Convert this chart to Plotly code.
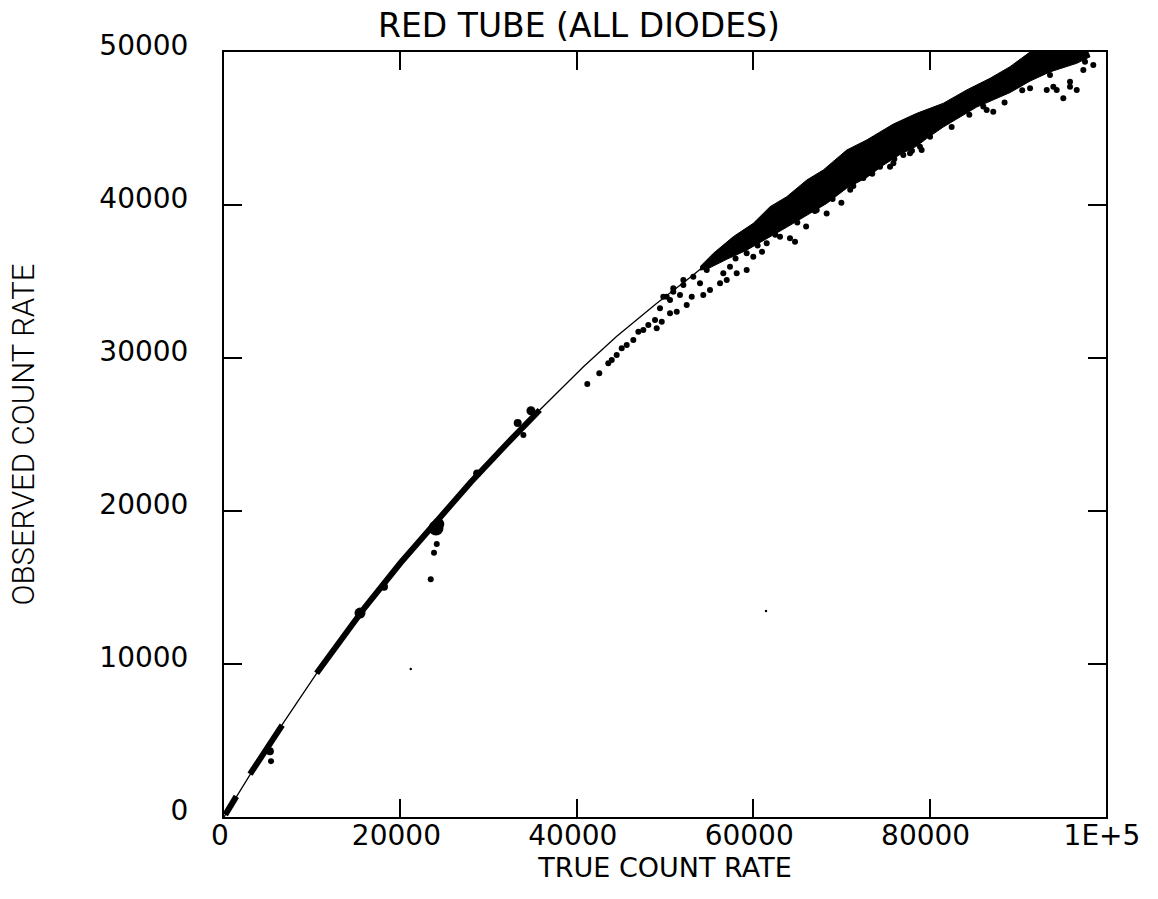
import plotly.graph_objects as go

# Fitted dead-time curve: true count rate vs observed count rate
curve_true = [0, 2000, 4000, 6500, 10500, 15000, 20000, 25000, 30000, 35800,
              40750, 44500, 49000, 53200, 57000, 61000, 65000, 70000, 75000,
              80000, 85000, 90000, 96000]
curve_obs = [0, 1900, 3750, 5950, 9390, 13000, 16600, 19950, 23100, 26600,
             29430, 31400, 33550, 35420, 37250, 39100, 40750, 42850, 44600,
             46200, 47300, 49000, 50400]

# Dense runs of diode measurements at low rates
run_a_true = [150, 700, 1400]
run_a_obs = [150, 680, 1350]
run_b_true = [2950, 4000, 5000, 6000, 6600]
run_b_obs = [2800, 3750, 4630, 5510, 6000]
run_c_true = [10500, 13000, 16000, 20000, 24000, 28000, 32000, 35800]
run_c_obs = [9390, 11400, 13720, 16600, 19300, 21900, 24350, 26600]

# Clumps sitting on the low-rate runs
clump_true = [5200, 15420, 18140, 24040, 24300, 28700, 33300, 34800]
clump_obs = [4300, 13330, 15050, 18890, 19150, 22450, 25750, 26550]
clump_size = [8, 11, 8, 15, 12, 8, 8, 9]

# High-rate band: upper edge then lower edge of the dense cloud
band_upper_true = [53970, 55480, 57740, 60010, 61910, 63800, 66070, 67950,
                   70600, 72870, 75890, 78540, 81560, 84210, 86850, 89120,
                   91390, 97960]
band_upper_obs = [35970, 36840, 37930, 38800, 39890, 40540, 41630, 42290,
                  43590, 44250, 45290, 45990, 46650, 47520, 48280, 49040,
                  50000, 50000]
band_lower_true = [98190, 96680, 93650, 91390, 89120, 86850, 85340, 83450,
                   81560, 79670, 78540, 76640, 74750, 72870, 70600, 68330,
                   66070, 63800, 61530, 59260, 57000, 54730, 53970]
band_lower_obs = [49690, 49260, 48700, 48100, 47350, 46750, 46400, 45750,
                  45100, 44350, 43850, 43300, 42600, 41800, 41100, 40100,
                  39300, 38550, 37800, 37050, 36450, 35800, 35750]

# Individual scattered measurements
dots_true = [
    41190, 42550, 43570, 43960, 44520, 45090, 45660, 46410, 46980, 47540,
    48110, 48870, 49630, 49060, 49430, 50570, 51330, 52460, 50570, 51700,
    53030, 54340, 55100, 53970, 56240, 57000, 58130, 59260, 60010, 50190,
    50940, 52080, 53210, 54730, 49810, 50940, 52080,
    56610, 57370, 59260, 61530, 63040, 64170, 64740, 67200, 68330, 69470,
    71350, 72490, 74380, 75890, 77780, 78910, 80050, 77020, 79100, 86090,
    86470, 87220, 91390, 93280, 93650, 94030, 94410, 95160, 95920, 95920,
    96680, 97430, 97620, 98560, 75510,
    58000, 60500, 62500, 65000, 67000, 69000, 71000, 73500, 76000, 78000,
    61000, 66000, 70000, 82500, 84500, 88500, 90500,
    24120, 23810, 23440, 33940, 5330,
]
dots_obs = [
    28300, 29000, 29650, 29870, 30200, 30630, 30850, 31180, 31720, 31830,
    32160, 32480, 32370, 31940, 33250, 32920, 33030, 33460, 33790, 34120,
    34010, 34120, 34450, 34880, 34880, 35100, 35540, 35750, 36620, 34010,
    34330, 34770, 35310, 35750, 34010, 34560, 35100,
    35540, 35970, 36840, 37500, 37930, 37820, 37600, 39670, 39450, 40980,
    41240, 41760, 42500, 42730, 43380, 43810, 44460, 43270, 43590, 46430,
    46210, 46100, 47630, 47520, 48500, 47730, 47520, 46980, 48060, 47730,
    47520, 48820, 49370, 49150, 42500,
    36500, 37350, 38050, 38850, 39600, 40400, 41000, 42050, 43000, 43550,
    36950, 38600, 40150, 45100, 45900, 46700, 47500,
    17840, 17270, 15540, 24970, 3650,
]
specks_true = [21170, 61450]
specks_obs = [9670, 13460]

x_tickvals = [0, 20000, 40000, 60000, 80000, 100000]
x_ticktext = ["0", "20000", "40000", "60000", "80000", "1E+5"]
y_tickvals = [0, 10000, 20000, 30000, 40000, 50000]
y_ticktext = ["0", "10000", "20000", "30000", "40000", "50000"]

INK = "black"
FONT = "DejaVu Sans"

fig = go.Figure()

fig.add_trace(go.Scatter(
    x=band_upper_true + band_lower_true, y=band_upper_obs + band_lower_obs,
    mode="lines", fill="toself", fillcolor=INK,
    line=dict(color=INK, width=1), hoverinfo="skip"))

for rx, ry, w in [(run_a_true, run_a_obs, 6), (run_b_true, run_b_obs, 6),
                  (run_c_true, run_c_obs, 6)]:
    fig.add_trace(go.Scatter(x=rx, y=ry, mode="lines",
                             line=dict(color=INK, width=w)))

fig.add_trace(go.Scatter(x=clump_true, y=clump_obs, mode="markers",
                         marker=dict(color=INK, size=clump_size, opacity=1,
                                     line_width=0)))
fig.add_trace(go.Scatter(x=dots_true, y=dots_obs, mode="markers",
                         marker=dict(color=INK, size=6, opacity=1,
                                     line_width=0)))
fig.add_trace(go.Scatter(x=specks_true, y=specks_obs, mode="markers",
                         marker=dict(color=INK, size=2.5, opacity=1,
                                     line_width=0)))

fig.add_trace(go.Scatter(x=curve_true, y=curve_obs, mode="lines",
                         line=dict(color=INK, width=1.3)))

axis_common = dict(
    showline=True, linecolor=INK, linewidth=2, mirror="ticks",
    ticks="inside", ticklen=18, tickwidth=1.5, tickcolor=INK,
    showgrid=False, zeroline=False,
    tickfont=dict(family=FONT, size=28, color=INK),
)

fig.update_layout(
    width=1158, height=899,
    margin=dict(l=224, r=52, t=52, b=82),
    paper_bgcolor="white", plot_bgcolor="white",
    showlegend=False,
    title=dict(text="RED TUBE (ALL DIODES)", x=0.5, xanchor="center",
               y=1 - 25 / 899, yanchor="middle",
               font=dict(family=FONT, size=33, color=INK)),
    xaxis=dict(range=[0, 100000], tickvals=x_tickvals, ticktext=x_ticktext,
               ticklabelstandoff=-8, ticklabelshift=-4,
               title=dict(text="TRUE COUNT RATE", standoff=0,
                          font=dict(family=FONT, size=27, color=INK)),
               **axis_common),
    yaxis=dict(range=[0, 50000], tickvals=y_tickvals, ticktext=y_ticktext,
               ticklabelstandoff=28, ticklabelshift=-7,
               title=dict(text="OBSERVED COUNT RATE", standoff=55,
                          font=dict(family="Roboto", size=31,
                                    color=INK, weight=300)),
               **axis_common),
)

fig.write_html("out.html")
